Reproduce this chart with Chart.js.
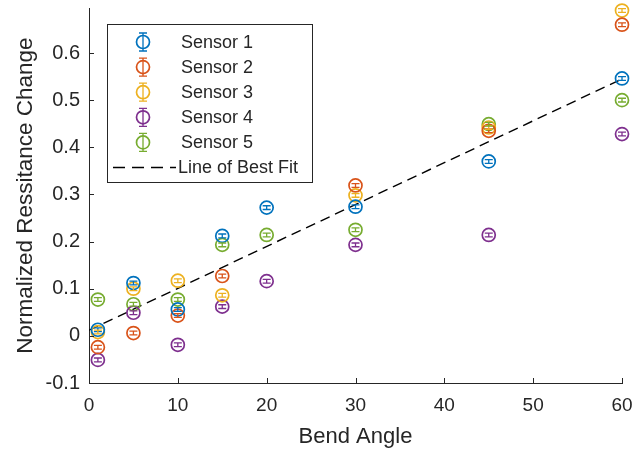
<!DOCTYPE html>
<html><head><meta charset="utf-8">
<script src="https://cdn.jsdelivr.net/npm/chart.js@4.4.1/dist/chart.umd.min.js"></script>
<style>html,body{margin:0;padding:0;background:#fff;}#wrap{width:638px;height:451px;}</style>
</head><body><div id="wrap"><canvas id="c" width="638" height="451"></canvas></div>
<script>
const angles = [1, 5, 10, 15, 20, 30, 45, 60];
const sensor1 = [0.013, 0.112, 0.056, 0.212, 0.272, 0.274, 0.370, 0.546];
const sensor2 = [-0.024, 0.006, 0.043, 0.127, null, 0.319, 0.435, 0.660];
const sensor3 = [0.008, 0.100, 0.117, 0.086, null, 0.298, 0.442, 0.690];
const sensor4 = [-0.051, 0.049, -0.019, 0.062, 0.116, 0.193, 0.214, 0.428];
const sensor5 = [0.077, 0.067, 0.077, 0.193, 0.214, 0.225, 0.449, 0.500];
const err1 = [0.004, 0.004, 0.004, 0.004, 0.004, 0.004, 0.004, 0.004];
const err2 = [0.004, 0.004, 0.004, 0.004, null, 0.004, 0.004, 0.004];
const err3 = [0.004, 0.004, 0.004, 0.004, null, 0.004, 0.004, 0.004];
const err4 = [0.004, 0.004, 0.004, 0.004, 0.004, 0.004, 0.004, 0.004];
const err5 = [0.004, 0.004, 0.004, 0.004, 0.004, 0.004, 0.004, 0.004];
const seriesNames = ['Sensor 1', 'Sensor 2', 'Sensor 3', 'Sensor 4', 'Sensor 5'];
const fitLabel = 'Line of Best Fit';
const fitX = [0, 60];
const fitY = [0.012, 0.545];
const xTicks = [0, 10, 20, 30, 40, 50, 60];
const yTicks = [-0.1, 0, 0.1, 0.2, 0.3, 0.4, 0.5, 0.6];
const yTickLabels = ['-0.1', '0', '0.1', '0.2', '0.3', '0.4', '0.5', '0.6'];
const xTitle = 'Bend Angle';
const yTitle = 'Normalized Ressitance Change';

const colors = ['#0072BD', '#D95319', '#EDB120', '#7E2F8E', '#77AC30'];
const axisColor = '#262626';
const FONT = "'Liberation Sans', Arial, sans-serif";

const allSeries = [sensor1, sensor2, sensor3, sensor4, sensor5];
const allErr = [err1, err2, err3, err4, err5];

function pts(vals, errs) {
  const out = [];
  angles.forEach((a, i) => { if (vals[i] !== null) out.push({x: a, y: vals[i], e: errs[i]}); });
  return out;
}

const datasets = allSeries.map((s, k) => ({
  label: seriesNames[k],
  data: pts(s, allErr[k]),
  showLine: false,
  clip: false,
  pointStyle: 'circle',
  pointRadius: 6.5,
  pointHoverRadius: 6.5,
  pointBorderWidth: 1.7,
  borderColor: colors[k],
  backgroundColor: 'rgba(0,0,0,0)',
  errBars: true
}));
datasets.push({
  label: fitLabel,
  data: fitX.map((x, i) => ({x: x, y: fitY[i]})),
  showLine: true,
  pointRadius: 0,
  borderColor: '#000',
  borderWidth: 1.4,
  borderDash: [10, 6],
  backgroundColor: 'rgba(0,0,0,0)'
});

const matlabPlugin = {
  id: 'matlabLook',
  afterDatasetsDraw(chart) {
    const ctx = chart.ctx;
    const xs = chart.scales.x, ys = chart.scales.y;
    chart.data.datasets.forEach((ds, k) => {
      if (!ds.errBars) return;
      ctx.save();
      ctx.strokeStyle = ds.borderColor;
      ctx.lineWidth = 1.3;
      ds.data.forEach(p => {
        const px = xs.getPixelForValue(p.x);
        const y1 = ys.getPixelForValue(p.y - p.e);
        const y2 = ys.getPixelForValue(p.y + p.e);
        ctx.beginPath();
        ctx.moveTo(px, y1); ctx.lineTo(px, y2);
        ctx.moveTo(px - 4, y1); ctx.lineTo(px + 4, y1);
        ctx.moveTo(px - 4, y2); ctx.lineTo(px + 4, y2);
        ctx.stroke();
      });
      ctx.restore();
    });
  },
  afterDraw(chart) {
    const ctx = chart.ctx;
    const xs = chart.scales.x, ys = chart.scales.y;
    const a = chart.chartArea;
    ctx.save();
    ctx.strokeStyle = axisColor;
    ctx.lineWidth = 1;
    ctx.beginPath();
    xTicks.forEach(t => {
      const px = Math.round(xs.getPixelForValue(t)) + 0.5;
      ctx.moveTo(px, a.bottom); ctx.lineTo(px, a.bottom - 5);
    });
    yTicks.forEach(t => {
      const py = Math.round(ys.getPixelForValue(t)) + 0.5;
      ctx.moveTo(a.left, py); ctx.lineTo(a.left + 5, py);
    });
    ctx.stroke();

    // legend
    const bx = 107.5, by = 24.5, bw = 205, bh = 158;
    ctx.fillStyle = '#fff';
    ctx.fillRect(bx, by, bw, bh);
    ctx.strokeStyle = axisColor;
    ctx.lineWidth = 1;
    ctx.strokeRect(bx, by, bw, bh);
    const rowY0 = 42, rowStep = 25.1, iconX = 143, textX = 181;
    ctx.font = '18px ' + FONT;
    ctx.textBaseline = 'middle';
    ctx.textAlign = 'left';
    chart.data.datasets.forEach((ds, k) => {
      const ry = rowY0 + k * rowStep;
      if (ds.errBars) {
        ctx.strokeStyle = ds.borderColor;
        ctx.lineWidth = 1.7;
        ctx.beginPath();
        ctx.arc(iconX, ry, 6.5, 0, Math.PI * 2);
        ctx.stroke();
        ctx.lineWidth = 1.3;
        ctx.beginPath();
        ctx.moveTo(iconX, ry - 9); ctx.lineTo(iconX, ry + 9);
        ctx.moveTo(iconX - 4, ry - 9); ctx.lineTo(iconX + 4, ry - 9);
        ctx.moveTo(iconX - 4, ry + 9); ctx.lineTo(iconX + 4, ry + 9);
        ctx.stroke();
      } else {
        ctx.strokeStyle = '#000';
        ctx.lineWidth = 1.4;
        ctx.setLineDash([12, 7]);
        ctx.beginPath();
        ctx.moveTo(113, ry); ctx.lineTo(176, ry);
        ctx.stroke();
        ctx.setLineDash([]);
      }
      ctx.fillStyle = '#262626';
      ctx.fillText(ds.label, ds.errBars ? textX : 178, ry + 1);
    });
    ctx.restore();
  }
};

new Chart(document.getElementById('c'), {
  type: 'scatter',
  data: { datasets: datasets },
  options: {
    responsive: false,
    animation: false,
    devicePixelRatio: 1,
    layout: { padding: { left: 0, right: 16, top: 8, bottom: 0 } },
    plugins: { legend: { display: false }, tooltip: { enabled: false } },
    scales: {
      x: {
        type: 'linear', min: 0, max: 60,
        grid: { display: false, drawTicks: false },
        border: { display: true, color: axisColor, width: 1 },
        afterBuildTicks: s => { s.ticks = xTicks.map(v => ({value: v})); },
        afterFit: s => { s.height = 68; s.paddingLeft = 0; s.paddingRight = 0; },
        ticks: { color: axisColor, font: { family: FONT, size: 19 }, padding: 11, maxRotation: 0,
                 callback: v => String(v) },
        title: { display: true, text: xTitle, color: axisColor, font: { family: FONT, size: 22 },
                 padding: { top: 0, bottom: 1 } }
      },
      y: {
        type: 'linear', min: -0.1, max: 0.695,
        grid: { display: false, drawTicks: false },
        border: { display: true, color: axisColor, width: 1 },
        afterBuildTicks: s => { s.ticks = yTicks.map(v => ({value: v})); },
        afterFit: s => { s.width = 89; s.paddingTop = 0; s.paddingBottom = 0; },
        ticks: { color: axisColor, font: { family: FONT, size: 20 }, padding: 9,
                 callback: (v) => { const i = yTicks.findIndex(t => Math.abs(t - v) < 1e-9); return i >= 0 ? yTickLabels[i] : ''; } },
        title: { display: true, text: yTitle, color: axisColor, font: { family: FONT, size: 22.5 },
                 padding: { top: 12, bottom: 0 } }
      }
    }
  },
  plugins: [matlabPlugin]
});
</script>
</body></html>
